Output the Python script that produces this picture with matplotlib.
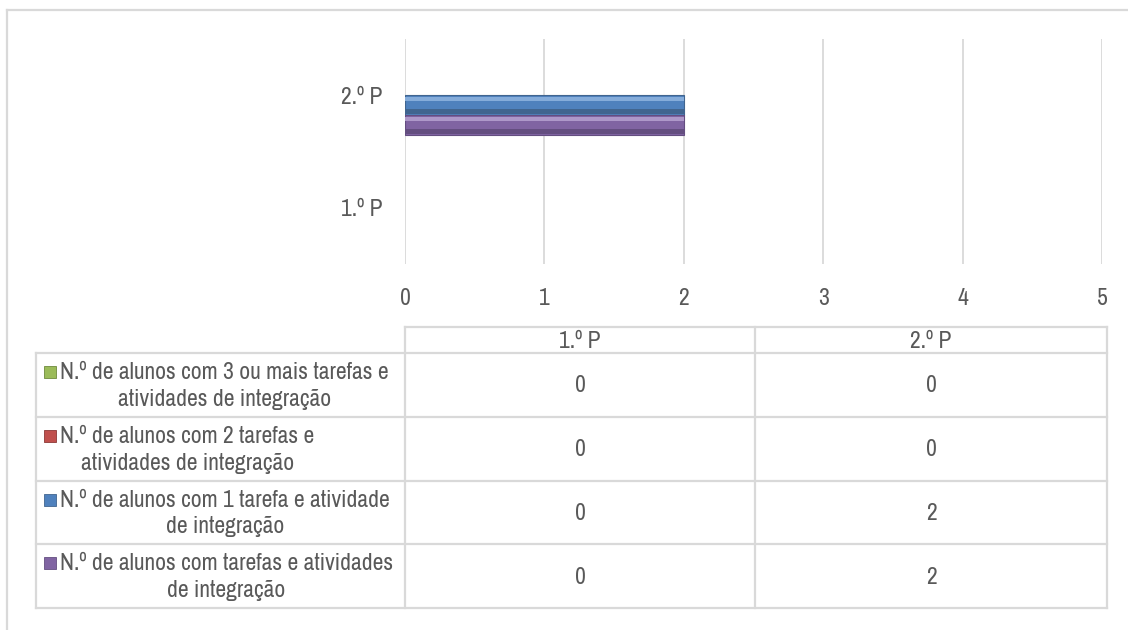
import matplotlib
matplotlib.use('Agg')
import matplotlib.pyplot as plt
from matplotlib import font_manager
from matplotlib.lines import Line2D
from matplotlib.patches import Rectangle

# Try to find a narrow font (the original is Arial Narrow-like)
narrow = None
for f in font_manager.fontManager.ttflist:
    if 'Narrow' in f.name or 'Condensed' in f.name:
        narrow = f.name
        break
if narrow is None:
    for f in font_manager.fontManager.ttflist:
        if f.name == 'DejaVu Sans' and str(f.stretch) in ('condensed', '700', 'semi-condensed') \
                and f.weight in (400, 'normal') and f.style == 'normal':
            narrow = 'DEJAVU_COND'
            break

if narrow == 'DEJAVU_COND':
    plt.rcParams['font.family'] = 'DejaVu Sans'
    plt.rcParams['font.stretch'] = 'condensed'
    tsize, ksize = 12.5, 15
elif narrow:
    plt.rcParams['font.family'] = narrow
    tsize, ksize = 17, 17
else:
    plt.rcParams['font.family'] = 'Liberation Sans'
    tsize, ksize = 13.5, 15

# Data
periods = ['1.º P', '2.º P']
series_labels = [
    'N.º de alunos com 3 ou mais tarefas e\natividades de integração',
    'N.º de alunos com 2 tarefas e\natividades de integração',
    'N.º de alunos com 1 tarefa e atividade\nde integração',
    'N.º de alunos com tarefas e atividades\nde integração',
]
green_vals = [0, 0]
red_vals = [0, 0]
blue_vals = [0, 2]
purple_vals = [0, 2]
x_ticks = [0, 1, 2, 3, 4, 5]

series_values = [green_vals, red_vals, blue_vals, purple_vals]
base_colors = ['#9BBB59', '#C0504D', '#4F81BD', '#8064A2']
light_colors = ['#B5CF82', '#D07B78', '#85ACDA', '#AE98C9']
dark_colors = ['#6E8A3C', '#8C3836', '#41658F', '#644E80']

text_color = '#595959'
line_color = '#D9D9D9'

W, H = 1128, 630
fig = plt.figure(figsize=(W / 100, H / 100), dpi=100)


def fx(px):
    return px / W


def fy(py):
    return 1 - py / H


# outer frame (only top and left visible)
fig.add_artist(Line2D([fx(7), fx(1128)], [fy(10), fy(10)], color=line_color, lw=1.6))
fig.add_artist(Line2D([fx(7), fx(7)], [fy(10), fy(630)], color=line_color, lw=1.6))

# chart area
ax = fig.add_axes([fx(405), fy(264), fx(1102) - fx(405), (264 - 39) / H])
h = 20 / 112.5
offsets = [1.5 * h, 0.5 * h, -0.5 * h, -1.5 * h]
for vals, off, c, lc, dc in zip(series_values, offsets, base_colors, light_colors, dark_colors):
    ys = [i + off for i in range(len(periods))]
    ew = [0.8 if v else 0 for v in vals]
    ax.barh(ys, vals, height=h, color=c, edgecolor=dc, linewidth=ew, zorder=3)
    # bevel: light top strip, dark bottom strip
    ax.barh([y + h * 0.3 for y in ys], vals, height=h * 0.2, color=lc, linewidth=0, zorder=4)
    ax.barh([y - h * 0.32 for y in ys], vals, height=h * 0.26, color=dc, linewidth=0, zorder=4)

ax.set_xlim(0, 5)
ax.set_ylim(-0.5, 1.5)
ax.set_xticks(x_ticks)
ax.set_yticks(range(len(periods)))
ax.set_yticklabels(periods)
ax.tick_params(axis='both', length=0, labelsize=ksize, labelcolor=text_color)
ax.tick_params(axis='x', pad=17)
ax.tick_params(axis='y', pad=16)
ax.grid(True, axis='x', color=line_color, linewidth=1.3)
ax.set_axisbelow(True)
for s in ax.spines.values():
    s.set_visible(False)

# data table
tax = fig.add_axes([0, 0, 1, 1])
tax.set_xlim(0, W)
tax.set_ylim(H, 0)
tax.axis('off')

col_x = [36, 405, 755, 1107]
row_y = [327, 353, 417, 481, 544, 608]
lw = 1.6

# header row (value columns only)
tax.plot([col_x[1], col_x[3]], [row_y[0], row_y[0]], color=line_color, lw=lw)
for x in col_x[1:]:
    tax.plot([x, x], [row_y[0], row_y[-1]], color=line_color, lw=lw)
tax.plot([col_x[0], col_x[0]], [row_y[1], row_y[-1]], color=line_color, lw=lw)
for y in row_y[1:]:
    tax.plot([col_x[0], col_x[3]], [y, y], color=line_color, lw=lw)

for j, p in enumerate(periods):
    tax.text((col_x[j + 1] + col_x[j + 2]) / 2, (row_y[0] + row_y[1]) / 2 + 1, p,
             ha='center', va='center', fontsize=tsize, color=text_color)

for i, (lab, vals) in enumerate(zip(series_labels, series_values)):
    yc = (row_y[i + 1] + row_y[i + 2]) / 2
    tax.text(60, yc + 1, lab, ha='left', va='center', multialignment='center',
             fontsize=tsize, color=text_color, linespacing=1.3)
    tax.add_patch(Rectangle((44, yc - 19), 12, 12, facecolor=base_colors[i],
                            edgecolor=dark_colors[i], lw=0.6))
    for j, v in enumerate(vals):
        tax.text((col_x[j + 1] + col_x[j + 2]) / 2, yc + 1, str(v),
                 ha='center', va='center', fontsize=tsize, color=text_color)

fig.savefig('out.png', dpi=100)
